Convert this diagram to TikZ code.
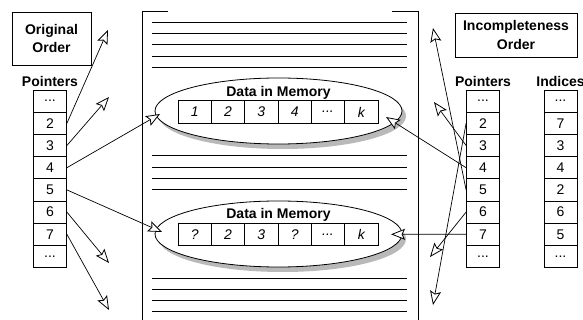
\documentclass[tikz,border=0pt]{standalone}
\usepackage{fontspec}
\setmainfont{Liberation Sans}
\usetikzlibrary{arrows.meta,shapes.geometric,shadows}
\newcommand\etcdots{...}

\begin{document}
\begin{tikzpicture}[x=1pt,y=-1pt,
  font=\fontsize{14}{18}\selectfont,
  cell/.style={draw, line width=0.8pt, minimum width=33pt, minimum height=22.2pt, inner sep=0pt},
  dcell/.style={draw, line width=0.8pt, minimum width=33.3pt, minimum height=22.6pt, inner sep=0pt,
    font=\fontsize{14}{18}\selectfont\itshape},
  title/.style={draw, line width=0.8pt, align=center, inner sep=0pt,
    font=\fontsize{14}{18}\selectfont\bfseries},
  head/.style={inner sep=0pt, font=\fontsize{14}{18}\selectfont\bfseries},
  ptr/.style={line width=0.7pt,
    -{Stealth[length=14pt,width=11pt,inset=2.5pt,fill=white,line width=0.8pt]}},
  rule/.style={line width=1pt},
  wall/.style={line width=1pt},
  mem/.style={ellipse, draw, line width=0.8pt, fill=white, minimum width=247pt,
    minimum height=66pt, inner sep=0pt,
    drop shadow={shadow xshift=4pt, shadow yshift=-5pt, fill=gray!55, opacity=1}}
]
\useasboundingbox (0,0) rectangle (583,320);

% order titles
\node[title, minimum width=79pt, minimum height=53pt] (orig) at (51.5,38.5) {Original\\Order};
\node[title, minimum width=122pt, minimum height=44pt] (incomp) at (516,35) {Incompleteness\\Order};

% column headings
\node[head] (lptr) at (50,81) {Pointers};
\node[head] (rptr) at (483,81) {Pointers};
\node[head] (idx) at (560.5,81) {Indices};

% pointer and index columns
\foreach \t [count=\i from 0] in {\etcdots,2,3,4,5,6,7,\etcdots}
  \node[cell] (lp\i) at (50,101.1+22.2*\i) {\t};
\foreach \t [count=\i from 0] in {\etcdots,2,3,4,5,6,7,\etcdots}
  \node[cell] (rp\i) at (483,101.1+22.2*\i) {\t};
\foreach \t [count=\i from 0] in {\etcdots,7,3,4,2,6,5,\etcdots}
  \node[cell] (ix\i) at (560.5,101.1+22.2*\i) {\t};

% memory container
\draw[wall] (168,12) -- (142,12) -- (142,321);
\draw[wall] (392,12) -- (418,12) -- (418,321);
\foreach \y in {22.5,33.7,44.9,56.1,67.3,156,167.2,178.4,189.6,278,289.2,300.4,311.6}
  \draw[rule] (152,\y) -- (407,\y);

% data blocks
\node[mem] (mem1) at (278.5,111) {};
\node[mem] (mem2) at (278.5,234) {};
\node[head] (lab1) at (278.5,93) {Data in Memory};
\node[head] (lab2) at (278.5,215) {Data in Memory};
\foreach \t [count=\i from 0] in {1,2,3,4,\etcdots,k}
  \node[dcell] (a\i) at (194.7+33.33*\i,112) {\t};
\foreach \t [count=\i from 0] in {?,2,3,?,\etcdots,k}
  \node[dcell] (b\i) at (194.7+33.33*\i,234.5) {\t};

% pointer targets
\coordinate (lt2) at (108,30);
\coordinate (lt3) at (109,97);
\coordinate (lt6) at (109,263);
\coordinate (lt7) at (109,310);
\coordinate (m1l) at (160,114);
\coordinate (m2l) at (162,232);
\coordinate (m1r) at (386,117);
\coordinate (m2r) at (391,234.3);
\coordinate (rt5) at (433,28);
\coordinate (rt3) at (434,102);
\coordinate (rt6) at (430,257);
\coordinate (rt2) at (433,305);

% original order pointers
\draw[ptr] (lp1.east) -- (lt2);
\draw[ptr] (lp2.east) -- (lt3);
\draw[ptr] (lp3.east) -- (m1l);
\draw[ptr] (lp4.east) -- (m2l);
\draw[ptr] (lp5.east) -- (lt6);
\draw[ptr] (lp6.east) -- (lt7);

% incompleteness order pointers
\draw[ptr] (rp2.west) -- (rt3);
\draw[ptr] (rp4.west) -- (rt5);
\draw[ptr] (rp5.west) -- (rt6);
\draw[ptr] (rp1.west) -- (rt2);
\draw[ptr] (rp3.west) -- (m1r);
\draw[ptr] (rp6.west) -- (m2r);
\end{tikzpicture}
\end{document}
